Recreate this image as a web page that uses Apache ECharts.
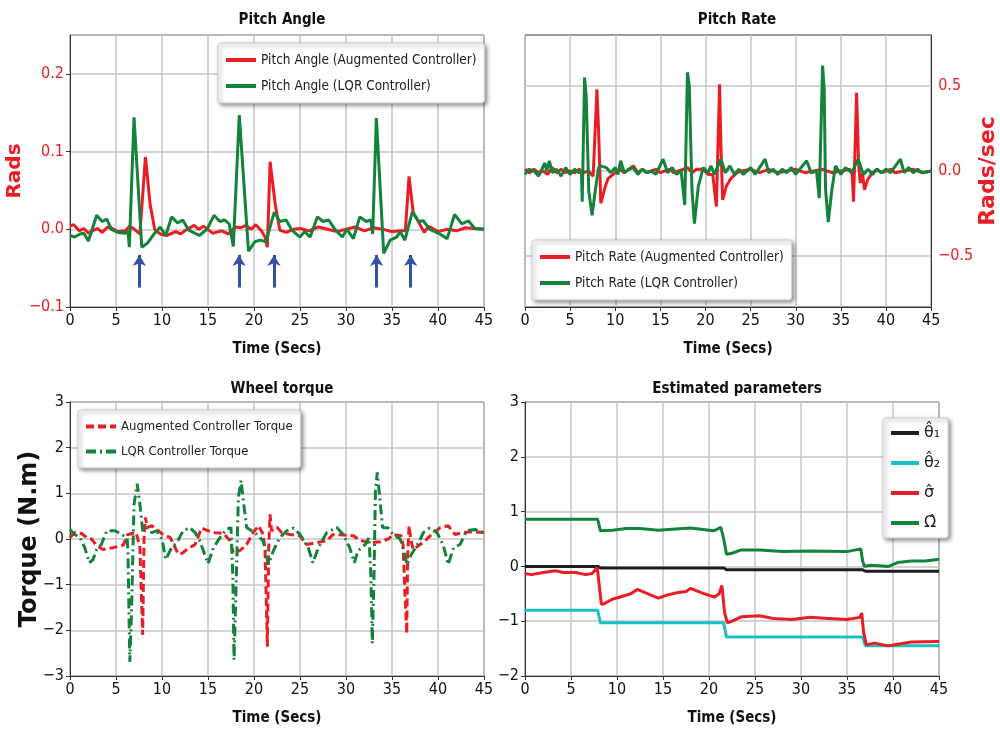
<!DOCTYPE html>
<html>
<head>
<meta charset="utf-8">
<script src="https://cdn.jsdelivr.net/npm/echarts@6/dist/echarts.min.js"></script>
<style>html,body{margin:0;padding:0;background:#fff}#c{width:1000px;height:731px}</style>
</head>
<body>
<div id="c"></div>
<script>
// ---------------- DATA ----------------
const xTicks = [0, 5, 10, 15, 20, 25, 30, 35, 40, 45];
const arrowTimes = [7.54, 18.37, 22.17, 33.33, 37.03];
const arrowFrom = -0.075, arrowTo = -0.033;

const pitchAngleAug = [[0,0.004],[0.4,0.006],[1.0,-0.002],[1.5,0.001],[2.0,-0.005],[2.6,-0.001],[3.0,0.001],[3.5,-0.004],[4.1,0.003],[4.6,0.001],[5.2,-0.003],[6.0,-0.002],[6.5,0.004],[7.0,0.0],[7.6,-0.006],[8.2,0.093],[8.7,0.033],[9.2,0.0],[9.8,-0.006],[10.5,-0.008],[11.5,-0.003],[12.0,-0.006],[12.6,-0.001],[13.5,0.005],[14.0,0.0],[14.5,0.004],[15.5,-0.005],[16.5,-0.002],[17.2,-0.006],[18.0,0.003],[18.6,0.002],[19.1,0.005],[19.7,0.0],[20.2,0.006],[20.8,-0.002],[21.2,-0.01],[21.45,-0.023],[21.75,0.087],[22.3,0.033],[22.8,-0.001],[23.5,-0.004],[24.3,0.0],[25.0,0.001],[26.0,-0.002],[27.0,0.003],[28.0,0.0],[29.0,-0.003],[30.0,0.0],[31.0,0.003],[32.0,-0.002],[33.0,0.002],[34.0,0.0],[35.0,-0.003],[36.0,-0.002],[36.45,-0.002],[36.85,0.068],[37.3,0.022],[38.0,0.007],[38.5,-0.004],[39.0,0.004],[40.0,-0.003],[41.0,0.0],[42.0,-0.002],[43.0,0.002],[44.0,0.001],[45,0.0]];
const pitchAngleLQR = [[0,-0.008],[0.5,-0.01],[1.1,-0.006],[1.5,-0.005],[2.0,-0.015],[2.9,0.018],[3.5,0.01],[4.0,0.013],[4.5,0.0],[5.2,-0.004],[6.0,-0.005],[6.3,-0.003],[6.45,-0.023],[6.96,0.144],[7.8,-0.023],[8.4,-0.018],[9.2,-0.005],[9.8,0.003],[10.4,-0.008],[11.05,0.016],[11.7,0.008],[12.25,0.012],[12.9,-0.001],[14.05,-0.008],[14.9,0.0],[15.65,0.018],[16.3,0.01],[16.8,0.012],[17.3,0.007],[17.75,-0.022],[18.4,0.147],[19.4,-0.028],[20.1,-0.016],[20.65,-0.014],[21.3,-0.016],[22.2,0.022],[22.8,0.01],[23.5,0.012],[24.1,-0.001],[25.0,-0.01],[25.5,-0.003],[26.1,-0.01],[26.9,0.016],[27.5,0.01],[28.1,0.012],[28.8,0.0],[29.6,-0.01],[30.1,0.0],[30.8,-0.012],[31.5,0.016],[32.2,0.01],[32.7,0.012],[32.9,-0.006],[33.3,0.143],[34.1,-0.031],[34.8,-0.014],[35.5,-0.01],[35.9,-0.003],[36.4,-0.014],[37.2,0.022],[37.9,0.01],[38.4,0.011],[39.1,0.0],[40.2,-0.006],[41.0,-0.012],[41.8,0.019],[42.6,0.007],[43.3,0.011],[44.0,0.001],[45,0.0]];

const pitchRateAug = [[0,0.01],[0.5,-0.01],[1.0,0.01],[1.5,-0.01],[2.0,0.0],[2.5,-0.02],[3.0,0.02],[3.5,-0.01],[4.0,0.01],[4.5,-0.01],[5.0,0.0],[5.5,-0.01],[6.0,0.01],[6.5,-0.01],[7.0,0.0],[7.55,-0.03],[7.97,0.48],[8.15,0.24],[8.4,-0.19],[8.9,-0.09],[9.2,-0.045],[10.0,-0.01],[10.5,0.01],[11.0,-0.01],[11.5,0.01],[12.0,0.03],[12.5,-0.01],[13.0,0.01],[13.5,-0.01],[14.0,0.0],[14.5,0.01],[15.0,-0.01],[15.5,0.0],[16.0,0.01],[16.5,-0.01],[17.0,0.0],[17.5,0.01],[18.0,0.02],[18.5,-0.01],[19.0,0.01],[19.7,0.01],[20.3,-0.02],[20.8,-0.02],[21.2,-0.21],[21.56,0.51],[21.7,0.16],[21.9,-0.17],[22.3,-0.09],[22.8,-0.045],[23.5,-0.01],[24.0,0.0],[25.0,0.01],[26.0,-0.01],[27.0,0.01],[28.0,-0.01],[29.0,0.0],[30.0,0.01],[31.0,-0.01],[32.0,0.0],[33.0,0.01],[34.0,-0.01],[35.0,0.0],[36.0,0.01],[36.25,-0.02],[36.4,-0.18],[36.74,0.46],[36.96,0.04],[37.14,-0.07],[37.4,-0.015],[37.6,-0.11],[37.97,-0.05],[38.5,-0.01],[39.0,0.01],[39.5,-0.01],[40.0,0.0],[40.5,0.01],[41.0,-0.01],[42.0,0.0],[43.0,0.01],[44.0,-0.01],[45,0.0]];
const pitchRateLQR = [[0,-0.02],[0.4,0.01],[1.0,0.0],[1.5,-0.03],[2.2,0.047],[2.4,0.0],[2.7,0.06],[3.0,-0.01],[3.5,0.01],[4.0,-0.03],[4.5,0.02],[5.0,-0.02],[5.5,0.01],[6.0,-0.01],[6.25,0.0],[6.34,-0.18],[6.6,0.55],[6.78,0.44],[7.07,-0.12],[7.43,-0.26],[7.8,-0.11],[8.15,0.02],[8.4,0.03],[9.0,0.02],[9.5,-0.01],[10.0,0.02],[10.3,-0.02],[10.6,0.06],[11.0,-0.01],[11.5,0.01],[12.0,0.02],[12.5,-0.02],[13.0,0.01],[13.5,-0.01],[14.0,0.0],[14.5,-0.02],[15.3,0.07],[15.8,-0.01],[16.3,0.02],[16.8,-0.02],[17.3,0.0],[17.45,0.0],[17.7,-0.2],[18.0,0.58],[18.2,0.5],[18.5,-0.11],[18.77,-0.31],[19.2,-0.09],[19.75,0.02],[20.3,-0.01],[20.6,0.03],[21.0,-0.02],[21.7,0.07],[22.2,-0.01],[22.7,0.03],[23.2,-0.02],[23.7,0.01],[24.2,-0.02],[25.0,0.02],[25.5,-0.02],[26.6,0.07],[27.0,-0.01],[27.5,0.01],[28.0,-0.02],[28.5,0.01],[29.0,-0.01],[29.5,0.02],[30.0,-0.02],[31.2,0.06],[31.7,-0.01],[32.3,0.0],[32.6,-0.16],[32.97,0.62],[33.15,0.48],[33.3,-0.11],[33.6,-0.3],[34.0,-0.11],[34.4,0.03],[35.0,-0.02],[35.5,0.02],[36.2,-0.01],[36.9,0.07],[37.5,-0.02],[38.0,0.01],[38.5,-0.02],[39.0,0.01],[39.5,-0.01],[40.0,0.01],[40.5,-0.01],[41.6,0.07],[42.0,-0.01],[42.5,0.02],[43.0,-0.01],[43.5,0.01],[44.0,-0.01],[45,0.0]];

const torqueAug = [[0,0.03],[0.5,0.14],[1.27,0.12],[1.8,0.03],[2.35,0.0],[2.9,-0.15],[3.6,-0.23],[4.7,-0.19],[5.8,-0.13],[6.3,0.1],[7.2,0.14],[7.6,-0.19],[7.75,-1.15],[7.9,-2.1],[8.04,-0.04],[8.2,0.47],[8.4,0.25],[8.9,0.29],[9.4,0.21],[10.1,0.1],[10.9,0.03],[11.6,-0.26],[12.0,-0.34],[12.7,-0.23],[13.6,-0.12],[14.3,0.24],[14.9,0.19],[15.6,0.14],[16.7,0.12],[17.4,-0.04],[17.75,-0.3],[18.5,-0.25],[19.2,-0.12],[19.9,0.14],[20.5,0.29],[21.0,0.1],[21.2,-0.26],[21.4,-1.88],[21.45,-2.36],[21.6,-0.19],[21.74,0.54],[21.9,0.18],[22.5,0.26],[23.0,0.14],[23.9,0.1],[25.0,0.07],[25.7,-0.12],[26.8,-0.08],[27.9,-0.04],[28.6,0.1],[29.7,0.09],[30.8,0.07],[31.5,-0.03],[32.6,-0.08],[33.7,-0.06],[34.6,0.0],[35.1,0.1],[36.0,0.07],[36.2,-0.12],[36.4,-1.15],[36.6,-2.07],[36.7,-0.41],[36.85,0.29],[37.03,0.0],[37.3,-0.23],[37.86,-0.15],[38.6,-0.04],[39.3,0.1],[40.2,0.24],[41.1,0.29],[41.85,0.1],[42.75,0.14],[43.8,0.16],[45,0.14]];
const torqueLQR = [[0,0.21],[0.5,0.1],[1.1,0.03],[1.6,-0.19],[2.1,-0.52],[2.5,-0.45],[2.9,-0.23],[3.4,-0.12],[4.0,0.18],[4.9,0.18],[5.6,0.1],[6.2,0.03],[6.3,-0.26],[6.5,-2.69],[6.7,-1.51],[6.96,0.76],[7.3,1.21],[7.6,0.76],[7.9,0.18],[8.33,0.25],[8.9,0.14],[9.4,0.18],[10.0,0.0],[10.4,-0.45],[11.05,-0.19],[11.6,-0.08],[12.3,0.18],[13.0,0.25],[13.6,0.14],[14.1,-0.04],[14.5,-0.26],[15.0,-0.54],[15.6,-0.19],[16.3,0.03],[17.0,0.21],[17.5,0.25],[17.7,-0.85],[17.83,-2.65],[18.04,-1.15],[18.3,0.91],[18.6,1.28],[18.84,0.84],[19.2,0.25],[19.75,0.18],[20.3,0.1],[21.0,-0.04],[21.56,-0.56],[22.1,-0.26],[22.8,0.03],[23.55,0.18],[24.3,0.24],[25.0,0.1],[25.9,-0.19],[26.4,-0.52],[27.0,-0.19],[27.9,0.14],[29.0,0.25],[29.7,0.1],[30.4,-0.19],[30.9,-0.52],[31.3,-0.26],[32.1,-0.12],[32.5,0.03],[32.7,-0.78],[32.86,-2.29],[33.04,-0.85],[33.2,1.06],[33.4,1.46],[33.7,0.84],[33.98,0.25],[34.6,0.24],[35.1,0.1],[35.9,0.0],[36.4,-0.34],[36.6,-0.56],[37.1,-0.34],[37.9,-0.08],[38.4,0.14],[39.1,0.24],[39.9,0.14],[40.6,-0.15],[41.1,-0.56],[41.7,-0.19],[42.4,-0.12],[43.1,0.18],[44.0,0.21],[45,0.14]];

const theta1Hat = [[0,0],[7.9,0],[8.2,-0.03],[21.6,-0.03],[21.9,-0.06],[36.7,-0.06],[37.0,-0.09],[45,-0.09]];
const theta2Hat = [[0,-0.8],[7.9,-0.8],[8.2,-1.03],[21.6,-1.03],[21.9,-1.29],[36.7,-1.29],[37.0,-1.45],[45,-1.45]];
const sigmaHat = [[0,-0.13],[0.7,-0.15],[2,-0.11],[3.3,-0.08],[4.2,-0.11],[5.5,-0.11],[6.6,-0.15],[7.3,-0.13],[7.85,-0.02],[8.3,-0.69],[8.6,-0.68],[9.5,-0.6],[10.5,-0.55],[11.5,-0.5],[12.2,-0.42],[13.5,-0.51],[14.5,-0.58],[15.5,-0.52],[16.5,-0.48],[17.5,-0.46],[18.0,-0.4],[19.5,-0.5],[20.6,-0.56],[21.1,-0.5],[21.4,-0.35],[21.7,-0.85],[22.0,-1.03],[22.5,-1.0],[23.5,-0.92],[25.5,-0.9],[27.0,-0.95],[29.0,-0.97],[31.0,-0.93],[33.0,-0.95],[35.0,-0.97],[36.4,-0.93],[36.6,-0.85],[36.8,-1.2],[37.1,-1.43],[38.0,-1.4],[39.5,-1.45],[40.5,-1.42],[42.0,-1.38],[45,-1.37]];
const omegaHat = [[0,0.86],[7.9,0.86],[8.2,0.65],[8.4,0.62],[9.5,0.66],[11,0.69],[12.5,0.69],[14.5,0.66],[16,0.68],[18,0.70],[20.5,0.65],[21.3,0.71],[21.6,0.5],[21.9,0.22],[22.5,0.24],[23.5,0.3],[25.5,0.3],[28,0.27],[31,0.28],[35,0.27],[36.5,0.32],[36.7,0.1],[36.9,0.0],[37.5,0.02],[38.5,0.01],[39.5,0.0],[40.5,0.07],[42,0.1],[43.5,0.1],[45,0.13]];

const rateGridValues = [-0.5, 0, 0.5];

// ---------------- STYLE ----------------
const FONT = '"DejaVu Sans Condensed", "Liberation Sans Narrow", "DejaVu Sans", sans-serif';
const WIDE = '"DejaVu Sans", sans-serif';
const RED = '#ec1c24', GREEN = '#13833c', CYAN = '#1bbfc4', BLACK = '#1e1e1e', BLUE = '#3550a8';
const GRIDC = '#c6c6c6';

function fmt1(v){ if (Math.abs(v) < 1e-9) v = 0; return v.toFixed(1).replace('-', '\u2212'); }
function fmt0(v){ if (Math.abs(v) < 1e-9) v = 0; return String(Math.round(v)).replace('-', '\u2212'); }

function xAx(gi){
  return {type:'value', gridIndex:gi, min:0, max:45, interval:5,
    name:'Time (Secs)', nameLocation:'middle', nameGap:35,
    nameTextStyle:{fontWeight:'bold', fontSize:15, color:'#111', fontFamily:FONT},
    axisLine:{show:true, onZero:false, lineStyle:{color:'#333', width:1}},
    axisTick:{show:true, length:4, lineStyle:{color:'#333'}},
    axisLabel:{fontSize:16, color:'#111', margin:6, fontFamily:FONT},
    splitLine:{show:true, lineStyle:{color:GRIDC, width:1.5}}};
}
function legendBox(extra){
  return Object.assign({orient:'vertical', backgroundColor:'#fff', borderColor:'#d0d0d0', borderWidth:1, borderRadius:3,
    shadowColor:'rgba(0,0,0,0.45)', shadowBlur:4, shadowOffsetX:2, shadowOffsetY:2,
    itemWidth:30, itemHeight:14, itemGap:12, padding:[10,8,10,6],
    itemStyle:{opacity:0}, lineStyle:{width:4},
    textStyle:{fontSize:13.5, color:'#222', fontFamily:FONT}}, extra);
}
function line(name, data, color, xi, extra){
  return Object.assign({type:'line', name, data, xAxisIndex:xi, yAxisIndex:xi, symbol:'none', showSymbol:false,
    lineStyle:{color, width:3}, itemStyle:{color}, animation:false, z:3}, extra || {});
}

const chart = echarts.init(document.getElementById('c'), null, {renderer:'canvas'});
const TITLE = {fontSize:15, fontWeight:'bold', color:'#111', fontFamily:FONT};
const option = {
  backgroundColor:'#fff',
  animation:false,
  title:[
    {text:'Pitch Angle', left:277, top:8, textAlign:'center', textStyle:TITLE},
    {text:'Pitch Rate', left:732, top:8, textAlign:'center', textStyle:TITLE},
    {text:'Wheel torque', left:277, top:377, textAlign:'center', textStyle:TITLE},
    {text:'Estimated parameters', left:732, top:377, textAlign:'center', textStyle:TITLE}
  ],
  grid:[
    {left:70, right:516, top:35, bottom:424, show:true, borderColor:'#333', borderWidth:1, backgroundColor:'#fff'},
    {left:525, right:61, top:35, bottom:424, show:true, borderColor:'#333', borderWidth:1, backgroundColor:'#fff'},
    {left:70, right:516, top:402, bottom:55, show:true, borderColor:'#333', borderWidth:1, backgroundColor:'#fff'},
    {left:525, right:61, top:402, bottom:55, show:true, borderColor:'#333', borderWidth:1, backgroundColor:'#fff'}
  ],
  xAxis:[xAx(0), xAx(1), xAx(2), xAx(3)],
  yAxis:[
    {type:'value', gridIndex:0, min:-0.1, max:0.25, interval:0.1,
      name:'Rads', nameLocation:'middle', nameGap:42, nameRotate:90,
      nameTextStyle:{fontWeight:'bold', fontSize:20, color:RED, fontFamily:WIDE},
      axisLine:{show:true, onZero:false, lineStyle:{color:'#333'}},
      axisTick:{show:true, length:4, lineStyle:{color:'#333'}},
      axisLabel:{fontSize:16, color:RED, margin:6, fontFamily:FONT, showMaxLabel:false, formatter:fmt1},
      splitLine:{show:true, lineStyle:{color:GRIDC, width:1.5}}},
    {type:'value', gridIndex:1, position:'right', min:-0.8, max:0.8, interval:0.1,
      name:'Rads/sec', nameLocation:'middle', nameGap:40, nameRotate:90,
      nameTextStyle:{fontWeight:'bold', fontSize:22, color:RED, fontFamily:WIDE},
      axisLine:{show:true, onZero:false, lineStyle:{color:'#333'}},
      axisTick:{show:false},
      axisLabel:{fontSize:16, color:RED, margin:7, fontFamily:FONT,
        formatter:function(v){ return (Math.abs(Math.round(v*10)) % 5 === 0) ? fmt1(v) : ''; }},
      splitLine:{show:false}},
    {type:'value', gridIndex:2, min:-3, max:3, interval:1,
      name:'Torque (N.m)', nameLocation:'middle', nameGap:28, nameRotate:90, nameMoveOverlap:false,
      nameTextStyle:{fontWeight:'bold', fontSize:24, color:'#111', fontFamily:WIDE},
      axisLine:{show:true, onZero:false, lineStyle:{color:'#333'}},
      axisTick:{show:true, length:4, lineStyle:{color:'#333'}},
      axisLabel:{fontSize:16, color:'#111', margin:6, fontFamily:FONT, formatter:fmt0},
      splitLine:{show:true, lineStyle:{color:GRIDC, width:1.5}}},
    {type:'value', gridIndex:3, min:-2, max:3, interval:1,
      axisLine:{show:true, onZero:false, lineStyle:{color:'#333'}},
      axisTick:{show:true, length:4, lineStyle:{color:'#333'}},
      axisLabel:{fontSize:16, color:'#111', margin:6, fontFamily:FONT, formatter:fmt0},
      splitLine:{show:true, lineStyle:{color:GRIDC, width:1.5}}}
  ],
  legend:[
    legendBox({left:218, top:43, data:['Pitch Angle (Augmented Controller)','Pitch Angle (LQR Controller)']}),
    legendBox({left:532, top:240, data:['Pitch Rate (Augmented Controller)','Pitch Rate (LQR Controller)']}),
    legendBox({left:78, top:410, data:['Augmented Controller Torque','LQR Controller Torque'], textStyle:{fontSize:13, color:'#222', fontFamily:FONT}}),
    legendBox({left:883, top:418, itemGap:14, itemWidth:28, padding:[7,8,7,6], data:['\u03B8\u0302\u2081','\u03B8\u0302\u2082','\u03C3\u0302','\u03A9\u0302'], textStyle:{fontSize:16, color:'#222', fontFamily:WIDE}})
  ],
  series:[
    line('Pitch Angle (Augmented Controller)', pitchAngleAug, RED, 0),
    line('Pitch Angle (LQR Controller)', pitchAngleLQR, GREEN, 0),
    {type:'line', xAxisIndex:0, yAxisIndex:0, data:[], silent:true, z:3, animation:false,
      markLine:{silent:true, z:3, symbol:['none','arrow'], symbolSize:[10,11], animation:false,
        label:{show:false}, lineStyle:{color:BLUE, width:3, type:'solid'},
        data: arrowTimes.map(t => [{coord:[t, arrowFrom]}, {coord:[t, arrowTo]}])}},
    {type:'line', xAxisIndex:1, yAxisIndex:1, data:[], silent:true, z:1, animation:false,
      markLine:{silent:true, z:1, symbol:['none','none'], animation:false, label:{show:false},
        lineStyle:{color:GRIDC, width:1.5, type:'solid'},
        data: rateGridValues.map(v => ({yAxis:v}))}},
    line('Pitch Rate (Augmented Controller)', pitchRateAug, RED, 1),
    line('Pitch Rate (LQR Controller)', pitchRateLQR, GREEN, 1),
    line('Augmented Controller Torque', torqueAug, RED, 2, {lineStyle:{color:RED, width:3, type:[8,4]}}),
    line('LQR Controller Torque', torqueLQR, GREEN, 2, {lineStyle:{color:GREEN, width:3, type:[10,4,2,4]}}),
    line('\u03B8\u0302\u2081', theta1Hat, BLACK, 3),
    line('\u03B8\u0302\u2082', theta2Hat, CYAN, 3),
    line('\u03C3\u0302', sigmaHat, RED, 3),
    line('\u03A9\u0302', omegaHat, GREEN, 3)
  ]
};
chart.setOption(option);
</script>
</body>
</html>
